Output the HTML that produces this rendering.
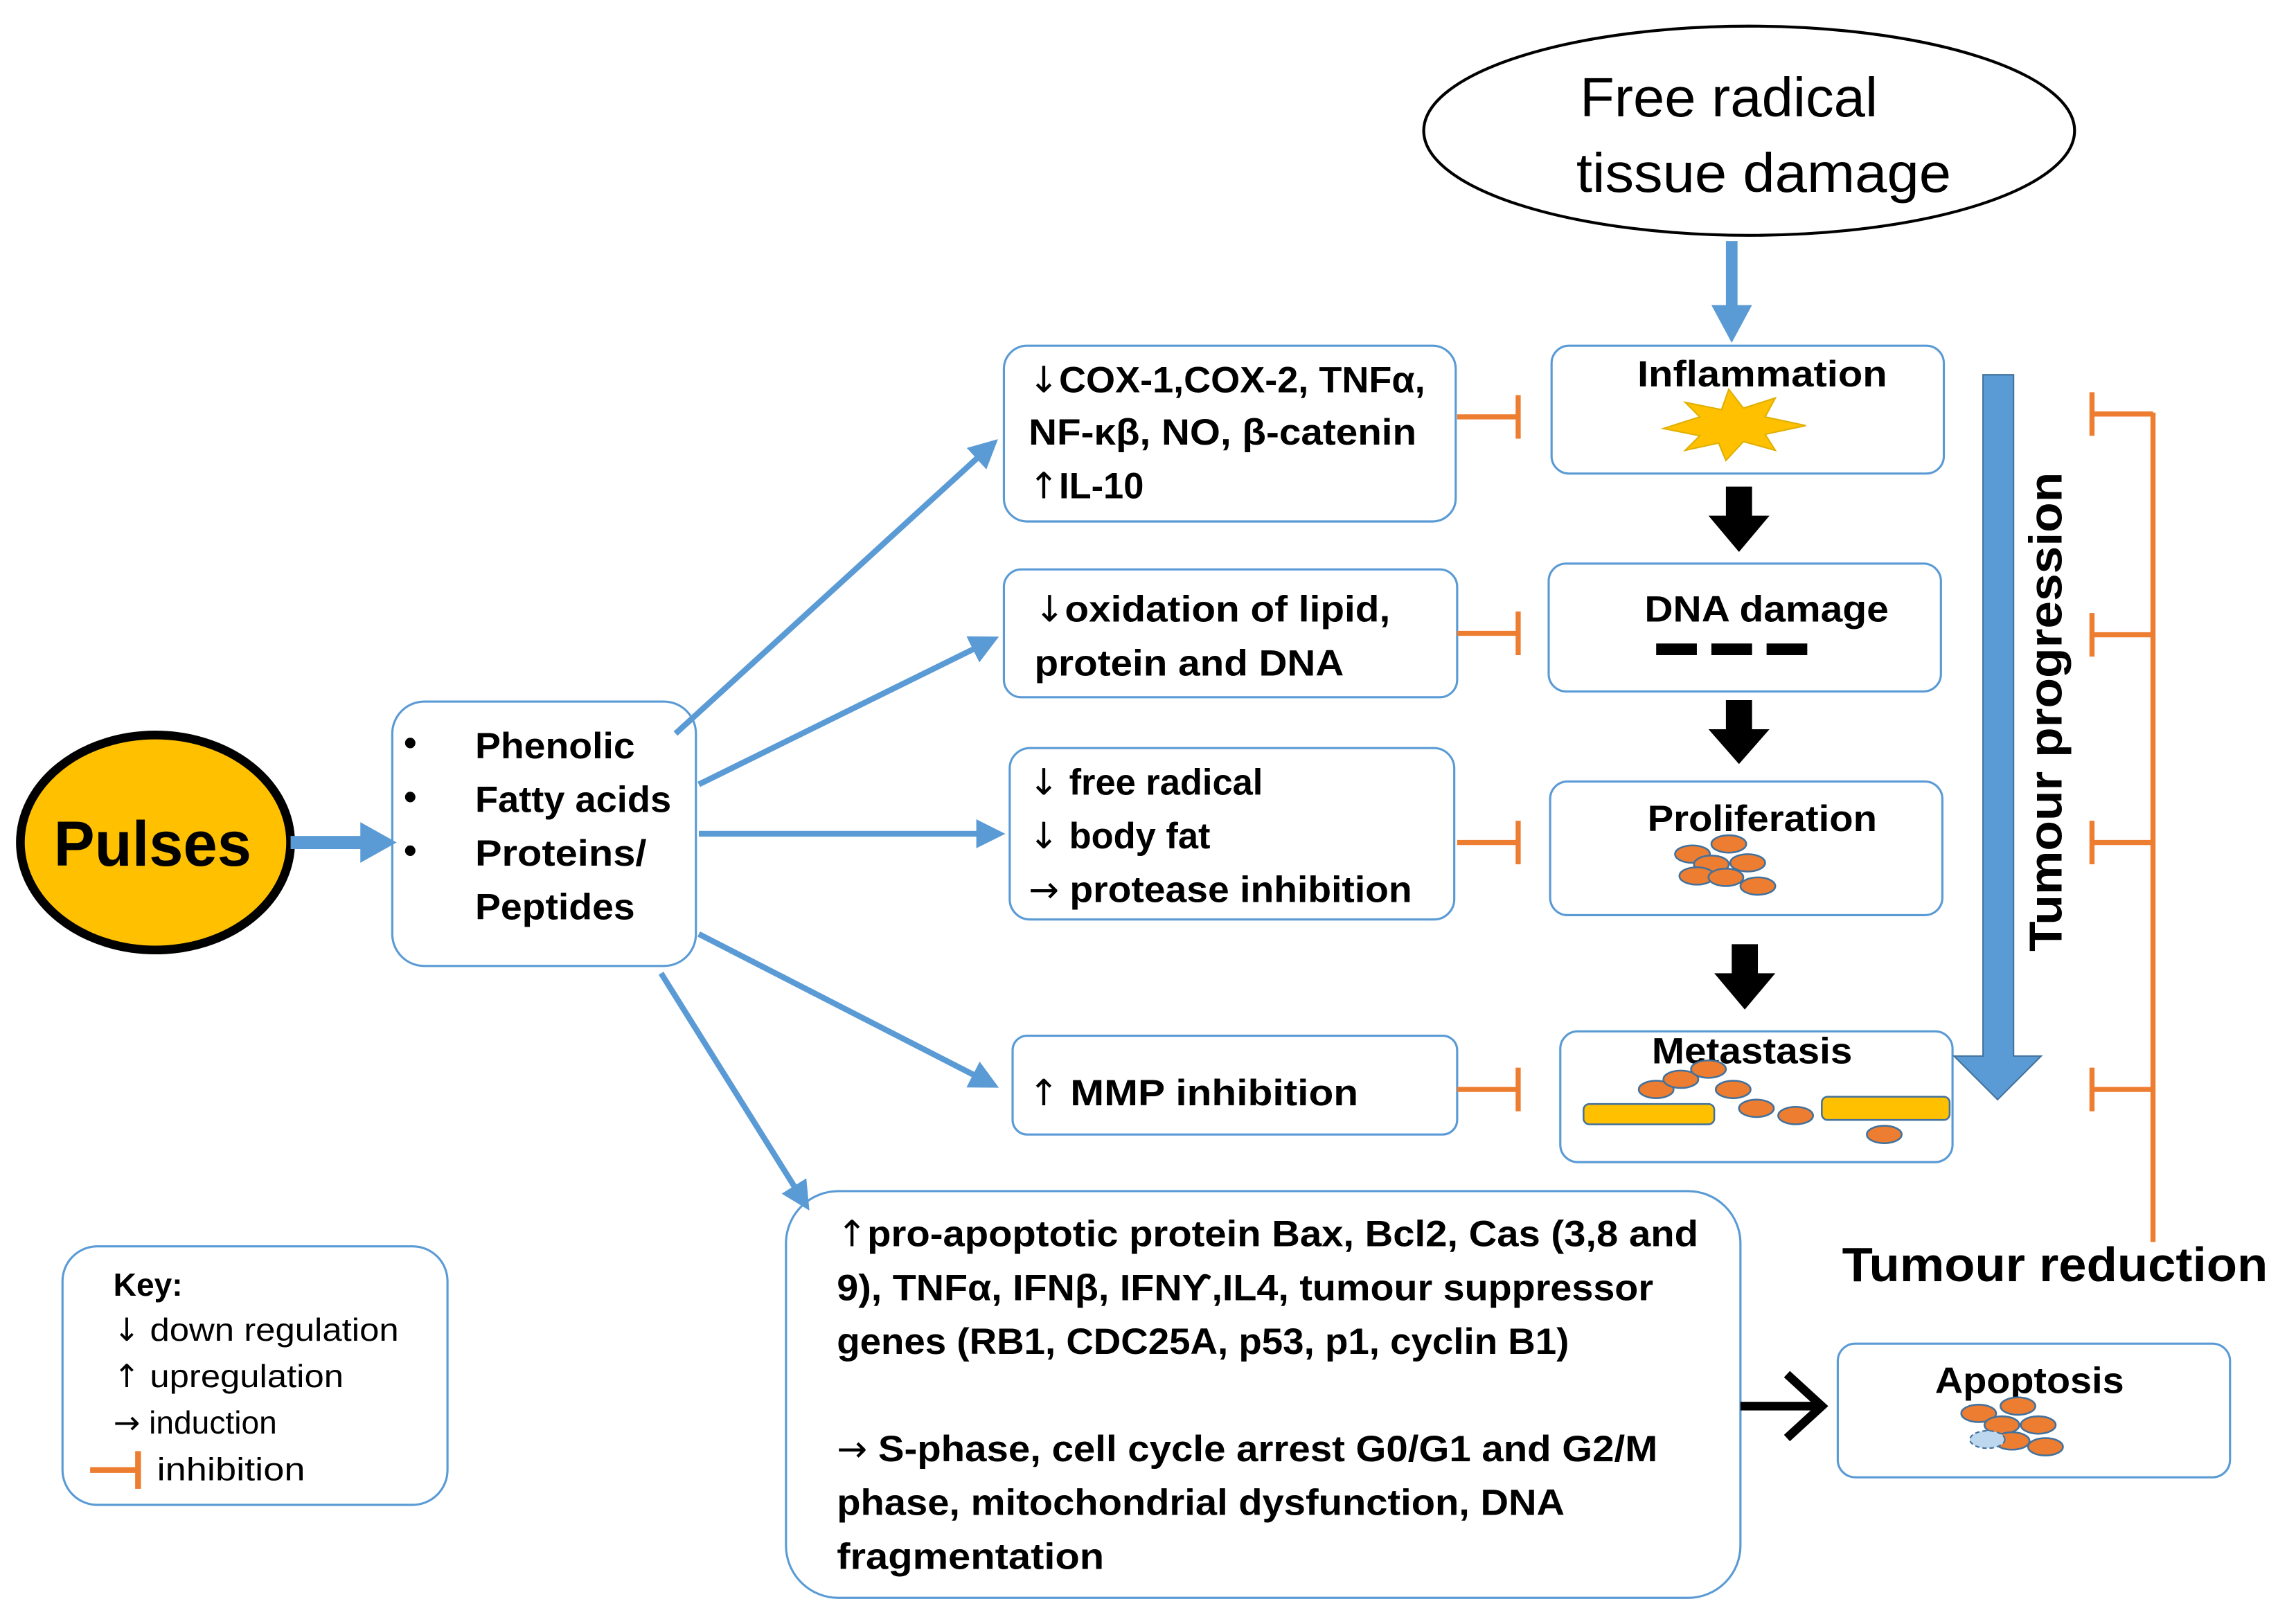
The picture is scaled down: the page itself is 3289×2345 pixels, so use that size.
<!DOCTYPE html>
<html><head><meta charset="utf-8"><style>html,body{margin:0;padding:0;background:#fff}svg{display:block}.a{font-family:"DejaVu Sans",sans-serif;font-weight:normal}</style></head>
<body>
<svg width="3289" height="2345" viewBox="0 0 1568 1118" xmlns="http://www.w3.org/2000/svg" font-family="Liberation Sans, DejaVu Sans, sans-serif">
<defs>
<marker id="bh" markerWidth="5" markerHeight="5" refX="4" refY="2.5" orient="auto" markerUnits="strokeWidth"><path d="M0,0 L5,2.5 L0,5 z" fill="#5B9BD5"/></marker>
</defs>
<rect width="1568" height="1118" fill="#fff"/>
<ellipse cx="1204" cy="90" rx="224" ry="72" fill="#fff" stroke="#000" stroke-width="2"/>
<text x="1190" y="80" font-size="38" text-anchor="middle" textLength="205" lengthAdjust="spacingAndGlyphs">Free radical</text>
<text x="1214" y="132" font-size="38" text-anchor="middle" textLength="258" lengthAdjust="spacingAndGlyphs">tissue damage</text>
<line x1="1192" y1="166" x2="1192" y2="212" stroke="#5B9BD5" stroke-width="8"/>
<path d="M1178,210 L1206,210 L1192,236 z" fill="#5B9BD5"/>
<g fill="#fff" stroke="#5B9BD5" stroke-width="1.5">
<rect x="1068" y="238" width="270" height="88" rx="12"/>
<rect x="1066" y="388" width="270" height="88" rx="12"/>
<rect x="1067" y="538" width="270" height="92" rx="12"/>
<rect x="1074" y="710" width="270" height="90" rx="12"/>
<rect x="691" y="238" width="311" height="121" rx="16"/>
<rect x="691" y="392" width="312" height="88" rx="12"/>
<rect x="695" y="515" width="306" height="118" rx="14"/>
<rect x="697" y="713" width="306" height="68" rx="10"/>
<rect x="270" y="483" width="209" height="182" rx="22"/>
<rect x="541" y="820" width="657" height="280" rx="36"/>
<rect x="1265" y="925" width="270" height="92" rx="12"/>
<rect x="43" y="858" width="265" height="178" rx="24"/>
</g>
<g font-weight="bold" font-size="25" fill="#000">
<text x="1213" y="266" text-anchor="middle" textLength="172" lengthAdjust="spacingAndGlyphs">Inflammation</text>
<text x="1216" y="428" text-anchor="middle" textLength="168" lengthAdjust="spacingAndGlyphs">DNA damage</text>
<text x="1213" y="572" text-anchor="middle" textLength="158" lengthAdjust="spacingAndGlyphs">Proliferation</text>
<text x="1206" y="732" text-anchor="middle" textLength="138" lengthAdjust="spacingAndGlyphs">Metastasis</text>
<text x="1397" y="959" text-anchor="middle" textLength="130" lengthAdjust="spacingAndGlyphs">Apoptosis</text>
<text x="708" y="270"><tspan class="a">↓</tspan><tspan textLength="252" lengthAdjust="spacingAndGlyphs">COX-1,COX-2, TNFα,</tspan></text>
<text x="708" y="306" textLength="267" lengthAdjust="spacingAndGlyphs">NF-κβ, NO, β-catenin</text>
<text x="708" y="343"><tspan class="a">↑</tspan><tspan>IL-10</tspan></text>
<text x="712" y="428"><tspan class="a">↓</tspan><tspan textLength="224" lengthAdjust="spacingAndGlyphs">oxidation of lipid,</tspan></text>
<text x="712" y="465" textLength="213" lengthAdjust="spacingAndGlyphs">protein and DNA</text>
<text x="708" y="547"><tspan class="a">↓</tspan><tspan> free radical</tspan></text>
<text x="708" y="584"><tspan class="a">↓</tspan><tspan> body fat</tspan></text>
<text x="708" y="621"><tspan class="a">→</tspan><tspan textLength="243" lengthAdjust="spacingAndGlyphs"> protease inhibition</tspan></text>
<text x="708" y="761"><tspan class="a">↑</tspan><tspan textLength="206" lengthAdjust="spacingAndGlyphs"> MMP inhibition</tspan></text>
<text x="327" y="522" textLength="110" lengthAdjust="spacingAndGlyphs">Phenolic</text>
<text x="327" y="559" textLength="135" lengthAdjust="spacingAndGlyphs">Fatty acids</text>
<text x="327" y="596" textLength="118" lengthAdjust="spacingAndGlyphs">Proteins/</text>
<text x="327" y="633" textLength="110" lengthAdjust="spacingAndGlyphs">Peptides</text>
<text x="278" y="520">•</text><text x="278" y="557">•</text><text x="278" y="594">•</text>
<text x="576" y="858"><tspan class="a">↑</tspan><tspan textLength="572" lengthAdjust="spacingAndGlyphs">pro-apoptotic protein Bax, Bcl2, Cas (3,8 and</tspan></text>
<text x="576" y="895" textLength="562" lengthAdjust="spacingAndGlyphs">9), TNFα, IFNβ, IFNϒ,IL4, tumour suppressor</text>
<text x="576" y="932" textLength="504" lengthAdjust="spacingAndGlyphs">genes (RB1, CDC25A, p53, p1, cyclin B1)</text>
<text x="576" y="1006"><tspan class="a">→</tspan><tspan textLength="544" lengthAdjust="spacingAndGlyphs"> S-phase, cell cycle arrest G0/G1 and G2/M</tspan></text>
<text x="576" y="1043" textLength="501" lengthAdjust="spacingAndGlyphs">phase, mitochondrial dysfunction, DNA</text>
<text x="576" y="1080" textLength="184" lengthAdjust="spacingAndGlyphs">fragmentation</text>
<text x="1268" y="882" font-size="33" textLength="293" lengthAdjust="spacingAndGlyphs">Tumour reduction</text>
<text transform="translate(1419,490) rotate(-90)" font-size="32" text-anchor="middle" textLength="330" lengthAdjust="spacingAndGlyphs">Tumour progression</text>
</g>
<g font-size="22" fill="#000">
<text x="78" y="892" font-weight="bold">Key:</text>
<text x="78" y="923"><tspan class="a">↓</tspan><tspan textLength="178" lengthAdjust="spacingAndGlyphs"> down regulation</tspan></text>
<text x="78" y="955"><tspan class="a">↑</tspan><tspan textLength="140" lengthAdjust="spacingAndGlyphs"> upregulation</tspan></text>
<text x="78" y="987"><tspan class="a">→</tspan><tspan> induction</tspan></text>
<text x="108" y="1019" textLength="102" lengthAdjust="spacingAndGlyphs">inhibition</text>
</g>
<g stroke="#ED7D31" stroke-width="4" fill="none">
<line x1="62" y1="1012" x2="95" y2="1012"/><line x1="95" y1="999" x2="95" y2="1025"/>
</g>
<ellipse cx="107" cy="580" rx="93" ry="74" fill="#FFC000" stroke="#000" stroke-width="6"/>
<text x="105" y="596" font-size="44" font-weight="bold" text-anchor="middle" textLength="136" lengthAdjust="spacingAndGlyphs">Pulses</text>
<line x1="200" y1="580" x2="250" y2="580" stroke="#5B9BD5" stroke-width="9"/>
<path d="M248,566 L273,580 L248,594 z" fill="#5B9BD5"/>
<g stroke="#5B9BD5" stroke-width="4" marker-end="url(#bh)">
<line x1="465" y1="505" x2="684" y2="305"/>
<line x1="481" y1="540" x2="684" y2="440"/>
<line x1="481" y1="574" x2="688" y2="574"/>
<line x1="481" y1="643" x2="684" y2="747"/>
<line x1="455" y1="670" x2="555" y2="830"/>
</g>
<g stroke="#ED7D31" stroke-width="3.5" fill="none">
<line x1="1003" y1="287" x2="1045" y2="287"/><line x1="1045" y1="272" x2="1045" y2="302"/>
<line x1="1003" y1="436" x2="1045" y2="436"/><line x1="1045" y1="421" x2="1045" y2="451"/>
<line x1="1003" y1="580" x2="1045" y2="580"/><line x1="1045" y1="565" x2="1045" y2="595"/>
<line x1="1003" y1="750" x2="1045" y2="750"/><line x1="1045" y1="735" x2="1045" y2="765"/>
<line x1="1482" y1="284" x2="1482" y2="855"/>
<line x1="1440" y1="285" x2="1482" y2="285"/><line x1="1440" y1="270" x2="1440" y2="300"/>
<line x1="1440" y1="437" x2="1482" y2="437"/><line x1="1440" y1="422" x2="1440" y2="452"/>
<line x1="1440" y1="580" x2="1482" y2="580"/><line x1="1440" y1="565" x2="1440" y2="595"/>
<line x1="1440" y1="750" x2="1482" y2="750"/><line x1="1440" y1="735" x2="1440" y2="765"/>
</g>
<path d="M1365,258 L1386,258 L1386,727 L1405,727 L1375,757 L1345,727 L1365,727 z" fill="#5B9BD5" stroke="#41719C" stroke-width="1"/>
<g fill="#000">
<path d="M1188,335 L1206,335 L1206,355 L1218,355 L1197,380 L1176,355 L1188,355 z"/>
<path d="M1188,482 L1206,482 L1206,502 L1218,502 L1197,526 L1176,502 L1188,502 z"/>
<path d="M1192,650 L1210,650 L1210,670 L1222,670 L1201,695 L1180,670 L1192,670 z"/>
</g>
<g stroke="#000" stroke-width="6" fill="none">
<line x1="1198" y1="968" x2="1252" y2="968"/><polyline points="1230,946 1254,968 1230,990"/>
</g>
<polygon points="1145,295 1170,287 1160,277 1185,282 1190,268 1200,281 1222,274 1215,287 1243,293 1215,299 1222,310 1200,304 1188,317 1183,305 1160,310 1170,300" fill="#FFC000" stroke="#E0B000" stroke-width="1"/>
<g fill="#000"><rect x="1140" y="443" width="28" height="8"/><rect x="1178" y="443" width="28" height="8"/><rect x="1216" y="443" width="28" height="8"/></g>
<g fill="#ED7D31" stroke="#41719C" stroke-width="1.2">
<ellipse cx="1165" cy="588" rx="12" ry="6"/><ellipse cx="1190" cy="581" rx="12" ry="6"/>
<ellipse cx="1178" cy="595" rx="12" ry="6"/><ellipse cx="1203" cy="594" rx="12" ry="6"/>
<ellipse cx="1168" cy="603" rx="12" ry="6"/><ellipse cx="1188" cy="604" rx="12" ry="6"/>
<ellipse cx="1210" cy="610" rx="12" ry="6"/>
<ellipse cx="1140" cy="750" rx="12" ry="6"/><ellipse cx="1157" cy="743" rx="12" ry="6"/>
<ellipse cx="1176" cy="736" rx="12" ry="6"/><ellipse cx="1193" cy="750" rx="12" ry="6"/>
<ellipse cx="1209" cy="763" rx="12" ry="6"/><ellipse cx="1236" cy="768" rx="12" ry="6"/>
<ellipse cx="1297" cy="781" rx="12" ry="6"/>
<ellipse cx="1362" cy="973" rx="12" ry="6"/><ellipse cx="1389" cy="968" rx="12" ry="6"/>
<ellipse cx="1378" cy="981" rx="12" ry="6"/><ellipse cx="1403" cy="981" rx="12" ry="6"/>
<ellipse cx="1385" cy="992" rx="12" ry="6"/><ellipse cx="1408" cy="996" rx="12" ry="6"/>
</g>
<g fill="#BDD7EE" stroke="#41719C" stroke-width="1" stroke-dasharray="3,2">
<ellipse cx="1368" cy="991" rx="12" ry="6"/>
</g>
<g fill="#FFC000" stroke="#41719C" stroke-width="1.2">
<rect x="1090" y="760" width="90" height="14" rx="4"/>
<rect x="1254" y="755" width="88" height="16" rx="4"/>
</g>
</svg>
</body></html>
